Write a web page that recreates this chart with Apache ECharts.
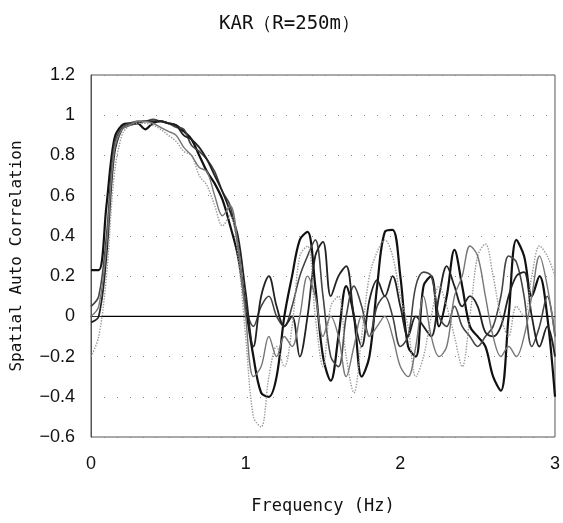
<!DOCTYPE html>
<html><head><meta charset="utf-8">
<script src="https://cdn.jsdelivr.net/npm/echarts@6/dist/echarts.min.js"></script>
<style>html,body{margin:0;padding:0;background:#fff}#c{width:563px;height:523px}</style>
</head><body><div id="c"></div>
<script>
// Frequency grid (Hz), step 0.05
const freq = [];
for (let i = 0; i <= 60; i++) freq.push(+(i * 0.05).toFixed(2));

const s1 = [0.23,0.23,0.55,0.88,0.95,0.96,0.96,0.93,0.96,0.97,0.96,0.95,0.92,0.88,0.80,0.72,0.66,0.58,0.45,0.30,0.05,
 -0.20,-0.38,-0.40,-0.30,0.00,0.20,0.38,0.42,0.15,-0.20,-0.32,-0.10,0.15,0.00,-0.30,-0.20,0.15,0.42,0.43,0.20,
 -0.15,-0.20,0.15,0.20,-0.05,0.10,0.33,0.15,-0.05,-0.10,-0.15,-0.30,-0.37,0.00,0.38,0.30,0.10,0.20,0.00,-0.40];
const s2 = [0.05,0.10,0.40,0.85,0.94,0.96,0.97,0.97,0.98,0.97,0.96,0.94,0.93,0.85,0.82,0.78,0.72,0.62,0.55,0.35,0.05,
 -0.05,0.05,0.10,0.00,-0.05,0.05,0.20,0.30,0.38,0.10,-0.20,-0.25,0.00,0.15,0.05,-0.10,0.05,0.10,0.00,-0.15,
 -0.10,0.15,0.22,0.20,0.00,-0.05,0.05,-0.05,-0.10,-0.15,-0.10,-0.05,0.10,0.30,0.27,0.10,-0.15,-0.05,0.10,-0.10];
const s3 = [-0.03,0.00,0.30,0.80,0.93,0.95,0.96,0.97,0.97,0.97,0.96,0.95,0.90,0.88,0.84,0.78,0.70,0.62,0.52,0.40,0.12,
 -0.15,0.10,0.20,0.05,-0.05,0.00,-0.20,0.00,0.30,0.37,0.10,0.20,0.25,0.00,-0.15,0.08,0.18,0.10,0.20,0.05,
 -0.10,0.00,-0.05,-0.10,0.10,0.25,0.15,0.05,0.10,0.05,-0.08,-0.10,-0.05,0.10,0.20,0.22,0.00,-0.15,-0.05,-0.20];
const s4 = [-0.20,-0.10,0.20,0.70,0.90,0.95,0.96,0.96,0.95,0.93,0.90,0.87,0.82,0.80,0.70,0.65,0.55,0.45,0.50,0.30,-0.10,
 -0.50,-0.55,-0.30,-0.15,-0.25,-0.05,0.30,0.35,0.00,-0.25,0.05,0.10,-0.20,-0.38,-0.10,0.20,0.32,0.38,0.30,0.10,
 -0.05,-0.30,-0.20,0.00,0.15,0.05,-0.10,-0.25,0.00,0.30,0.36,0.20,0.00,-0.10,0.05,0.00,0.20,0.35,0.30,0.20];
const s5 = [0.00,0.05,0.35,0.82,0.93,0.95,0.97,0.97,0.96,0.94,0.92,0.90,0.84,0.80,0.74,0.72,0.60,0.50,0.55,0.35,0.00,
 -0.30,-0.25,-0.10,-0.20,-0.10,-0.15,0.00,0.20,0.10,-0.10,0.00,-0.10,-0.30,-0.15,0.00,-0.10,-0.05,0.00,-0.10,-0.25,
 -0.30,-0.15,0.10,-0.10,-0.20,-0.15,0.10,0.20,0.35,0.30,0.10,-0.10,-0.20,-0.15,-0.20,-0.10,0.10,0.30,0.15,-0.10];

const zeroFreq = [0.07, 2.97];
const zeroVal = [0, 0];

const yTicks = [-0.6,-0.4,-0.2,0,0.2,0.4,0.6,0.8,1,1.2];
const xTicks = [0,1,2,3];

const pair = (xs, ys) => xs.map((x, i) => [x, ys[i]]);
const nameFont = '"DejaVu Sans Mono", monospace';
const tickFont = '"Liberation Sans", Arial, sans-serif';

const styles = [
  {d: s1, c: '#111', w: 2.2, t: 'solid'},
  {d: s2, c: '#444', w: 1.6, t: 'solid'},
  {d: s3, c: '#222', w: 1.8, t: 'solid'},
  {d: s4, c: '#999', w: 1.4, t: 'dotted'},
  {d: s5, c: '#777', w: 1.4, t: 'solid'}
];

const series = styles.map((s, i) => ({
  name: 's' + (i + 1), type: 'line', smooth: 0.35, symbol: 'none',
  data: pair(freq, s.d),
  lineStyle: {color: s.c, width: s.w, type: s.t}
}));
series.unshift({
  name: 'zero', type: 'line', symbol: 'none', data: pair(zeroFreq, zeroVal),
  lineStyle: {color: '#000', width: 1.2}, z: 1
});

const fmtNum = v => { const r = Math.round(v * 10) / 10; return r < 0 ? '\u2212' + String(-r) : String(r); };

const chart = echarts.init(document.getElementById('c'));
chart.setOption({
  animation: false,
  backgroundColor: '#fff',
  title: {text: 'KAR（R=250m）', left: 214, top: 10,
    textStyle: {fontFamily: nameFont, fontSize: 19, fontWeight: 'normal', color: '#111'}},
  grid: {left: 91, right: 7, top: 75, bottom: 86, show: true, borderColor: '#555', borderWidth: 1},
  xAxis: {type: 'value', min: 0, max: 3, interval: 1,
    name: 'Frequency (Hz)', nameLocation: 'middle', nameGap: 61,
    nameTextStyle: {fontFamily: nameFont, fontSize: 17, color: '#111'},
    axisLine: {lineStyle: {color: '#333'}}, axisTick: {show: false},
    axisLabel: {fontFamily: tickFont, fontSize: 18, color: '#111', margin: 18,
      formatter: v => xTicks.includes(Math.round(v)) ? String(Math.round(v)) : ''},
    splitLine: {show: false}},
  yAxis: {type: 'value', min: -0.6, max: 1.2, interval: 0.2,
    name: 'Spatial Auto Correlation', nameLocation: 'middle', nameGap: 66,
    nameTextStyle: {fontFamily: nameFont, fontSize: 16, color: '#111'},
    axisLine: {show: true, lineStyle: {color: '#555'}}, axisTick: {show: false},
    axisLabel: {fontFamily: tickFont, fontSize: 18, color: '#111', margin: 16,
      formatter: v => yTicks.includes(Math.round(v * 10) / 10) ? fmtNum(v) : ''},
    splitLine: {show: true, lineStyle: {color: '#888', type: [1, 12], width: 1}}},
  series: series
});
</script></body></html>
